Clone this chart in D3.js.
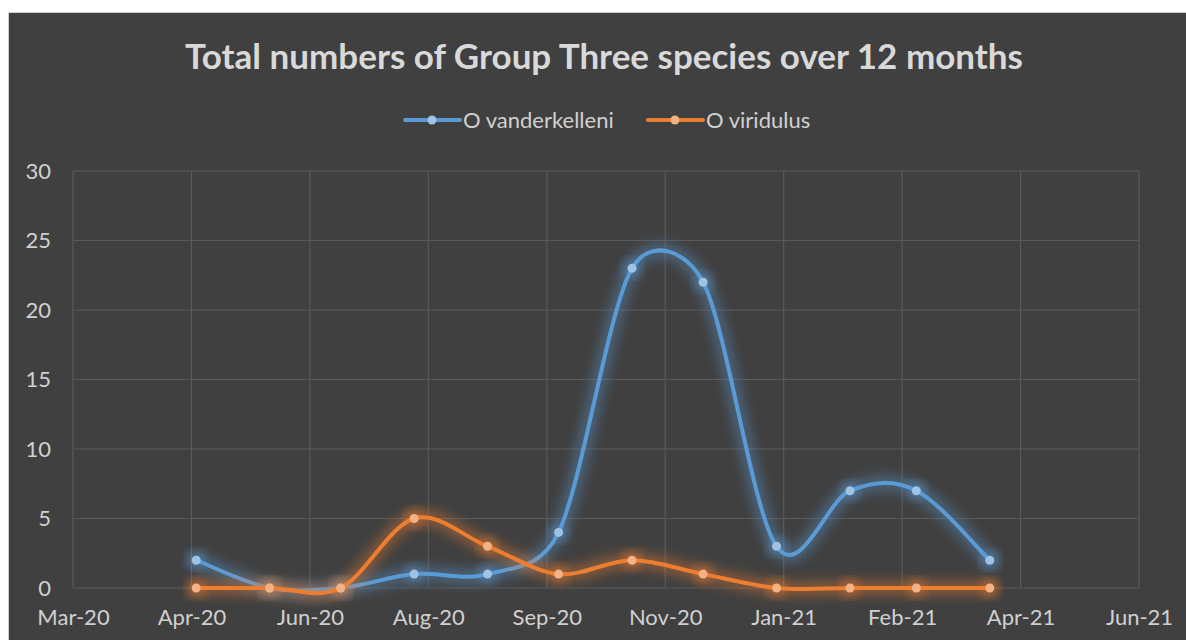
<!DOCTYPE html>
<html>
<head>
<meta charset="utf-8">
<script src="https://cdn.jsdelivr.net/npm/d3@7"></script>
<style>
  body { margin: 0; background: #fff; }
  text { font-family: Lato, "Open Sans", sans-serif; }
</style>
</head>
<body>
<svg id="chart" width="1186" height="640"></svg>
<script>
// monthly counts, first of each month
const months = ["2020-05-01", "2020-06-01", "2020-07-01", "2020-08-01", "2020-09-01", "2020-10-01",
  "2020-11-01", "2020-12-01", "2021-01-01", "2021-02-01", "2021-03-01", "2021-04-01"];
const vanderkelleni = [2, 0, 0, 1, 1, 4, 23, 22, 3, 7, 7, 2];
const viridulus = [0, 0, 0, 5, 3, 1, 2, 1, 0, 0, 0, 0];
const seriesNames = ["O vanderkelleni", "O viridulus"];
// excel date axis: base 10-Mar-20, major unit 50 days
const axisStart = "2020-03-10";
const axisStepDays = 50;
const axisSteps = 9;
const yTicks = [0, 5, 10, 15, 20, 25, 30];

const parse = d3.utcParse("%Y-%m-%d");
const fmt = d3.utcFormat("%b-%y");
const start = parse(axisStart);
const xTickDates = d3.range(axisSteps + 1).map((i) => d3.utcDay.offset(start, i * axisStepDays));

const margin = { left: 73, right: 47, top: 171, bottom: 52 };
const W = 1186, H = 640;

// excel-style smoothing: bezier, control arm 1/6 of neighbour chord, capped at half the segment
function ExcelSmooth(context) {
  this._context = context;
}
ExcelSmooth.prototype = {
  areaStart() {}, areaEnd() {},
  lineStart() { this._pts = []; },
  point(x, y) { this._pts.push([+x, +y]); },
  lineEnd() {
    const p = this._pts, n = p.length, c = this._context;
    if (!n) return;
    const dist = (a, b) => Math.hypot(b[0] - a[0], b[1] - a[1]);
    c.moveTo(p[0][0], p[0][1]);
    for (let i = 0; i < n - 1; i++) {
      const p0 = p[Math.max(i - 1, 0)], p1 = p[i], p2 = p[i + 1], p3 = p[Math.min(i + 2, n - 1)];
      const d12 = dist(p1, p2), d02 = dist(p0, p2), d13 = dist(p1, p3);
      const f1 = d02 / 6 < d12 / 2 ? 1 / 6 : d12 / (2 * d02);
      const f2 = d13 / 6 < d12 / 2 ? 1 / 6 : d12 / (2 * d13);
      c.bezierCurveTo(
        p1[0] + f1 * (p2[0] - p0[0]), p1[1] + f1 * (p2[1] - p0[1]),
        p2[0] - f2 * (p3[0] - p1[0]), p2[1] - f2 * (p3[1] - p1[1]),
        p2[0], p2[1]);
    }
  }
};
const curveExcel = (context) => new ExcelSmooth(context);

const svg = d3.select("#chart");

const defs = svg.append("defs");
defs.append("filter").attr("id", "glow").attr("x", "-20%").attr("y", "-20%").attr("width", "140%").attr("height", "140%")
  .append("feGaussianBlur").attr("stdDeviation", 6);

// chart frame
svg.append("rect").attr("x", 8.5).attr("y", 12.5).attr("width", W).attr("height", H)
  .attr("fill", "#404040").attr("stroke", "#d0d0d0").attr("stroke-width", 1);

const x = d3.scaleUtc()
  .domain([start, xTickDates[xTickDates.length - 1]])
  .range([margin.left, W - margin.right]);
const y = d3.scaleLinear().domain([0, 30]).range([H - margin.bottom, margin.top]);

// gridlines
svg.append("g").selectAll("line").data(yTicks).join("line")
  .attr("x1", x.range()[0]).attr("x2", x.range()[1])
  .attr("y1", (d) => y(d)).attr("y2", (d) => y(d))
  .attr("stroke", "#5a5a5a").attr("stroke-width", 1.2);
svg.append("g").selectAll("line").data(xTickDates).join("line")
  .attr("x1", (d) => x(d)).attr("x2", (d) => x(d))
  .attr("y1", y(0)).attr("y2", y(30))
  .attr("stroke", "#5a5a5a").attr("stroke-width", 1.2);

// axes
const xAxis = svg.append("g").attr("transform", `translate(0,${y(0)})`)
  .call(d3.axisBottom(x).tickValues(xTickDates).tickFormat(fmt).tickSize(0).tickPadding(21));
xAxis.select(".domain").remove();
xAxis.selectAll("text").attr("fill", "#d0d0d0").style("font-size", "22px").style("font-family", "Lato");

const yAxis = svg.append("g").attr("transform", `translate(${margin.left},0)`)
  .call(d3.axisLeft(y).tickValues(yTicks).tickSize(0).tickPadding(22));
yAxis.select(".domain").remove();
yAxis.selectAll("text").attr("fill", "#d0d0d0").style("font-size", "22px").style("font-family", "Lato");

// title
svg.append("text").attr("x", 604).attr("y", 69).attr("text-anchor", "middle")
  .attr("fill", "#d9d9d9").style("font-size", "35px").style("font-weight", "bold")
  .text("Total numbers of Group Three species over 12 months");

const series = [
  { name: seriesNames[0], values: vanderkelleni, color: "#5b9bd5", marker: "#9dc3e6" },
  { name: seriesNames[1], values: viridulus, color: "#ed7d31", marker: "#f4b183" },
];

const line = d3.line()
  .x((d) => x(d.date))
  .y((d) => y(d.value))
  .curve(curveExcel);

const dates = months.map(parse);

series.forEach((s) => {
  const pts = s.values.map((v, i) => ({ date: dates[i], value: v }));
  const g = svg.append("g");
  // glow
  g.append("path").attr("d", line(pts)).attr("fill", "none")
    .attr("stroke", s.color).attr("stroke-width", 15).attr("stroke-opacity", 0.4)
    .attr("stroke-linecap", "round").attr("filter", "url(#glow)");
  g.selectAll("circle.glow").data(pts).join("circle").attr("class", "glow")
    .attr("cx", (d) => x(d.date)).attr("cy", (d) => y(d.value)).attr("r", 9)
    .attr("fill", s.color).attr("fill-opacity", 0.5).attr("filter", "url(#glow)");
  g.append("path").attr("d", line(pts)).attr("fill", "none")
    .attr("stroke", s.color).attr("stroke-width", 4).attr("stroke-linecap", "round");
  g.selectAll("circle.pt").data(pts).join("circle").attr("class", "pt")
    .attr("cx", (d) => x(d.date)).attr("cy", (d) => y(d.value)).attr("r", 4.5)
    .attr("fill", s.marker);
});

// legend
const legendItems = [
  { x: 405, label: seriesNames[0] },
  { x: 648, label: seriesNames[1] },
];
const legend = svg.append("g");
legendItems.forEach((it, i) => {
  const s = series[i];
  const lg = legend.append("g").attr("transform", `translate(${it.x},120)`);
  lg.append("line").attr("x1", 0).attr("x2", 55).attr("stroke", s.color).attr("stroke-width", 4).attr("stroke-linecap", "round");
  lg.append("circle").attr("cx", 27).attr("r", 4.5).attr("fill", s.marker);
  lg.append("text").attr("x", 58).attr("dy", "0.35em").attr("fill", "#d0d0d0")
    .style("font-size", "22px").text(it.label);
});
</script>
</body>
</html>
